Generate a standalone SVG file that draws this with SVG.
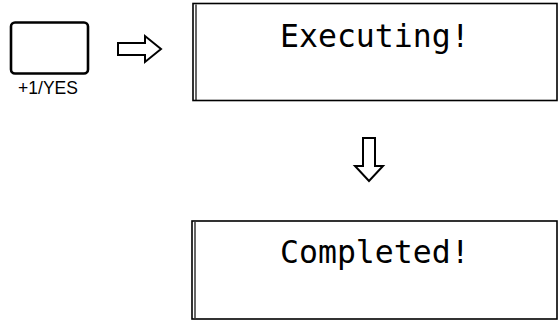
<svg xmlns="http://www.w3.org/2000/svg" width="560" height="321" viewBox="0 0 560 321">
<style>
.lcd{fill:#fff;stroke:#000;stroke-width:1.6}
.inner{stroke:#000;stroke-width:1.2;fill:none}
.lcdtxt{font-family:"DejaVu Sans Mono","Liberation Mono",monospace;font-size:31.5px;fill:#000}
.arrow{fill:#fff;stroke:#000;stroke-width:2;stroke-linejoin:miter}
.btn{fill:#fff;stroke:#000;stroke-width:2.6}
.lbl{font-family:"Liberation Sans",Arial,sans-serif;font-size:17.5px;fill:#000}
</style>
<rect width="560" height="321" fill="#fff"/>
<g id="button">
<rect class="btn" x="11" y="22.5" width="77" height="51" rx="4"/>
<text class="lbl" x="48" y="93.5" text-anchor="middle">+1/YES</text>
</g>
<g id="display-executing">
<rect class="lcd" x="193" y="3.5" width="364" height="97"/>
<line class="inner" x1="196" y1="4.5" x2="196" y2="100"/>
<text class="lcdtxt" x="280" y="47">Executing!</text>
</g>
<g id="display-completed">
<rect class="lcd" x="192" y="221" width="365" height="98"/>
<line class="inner" x1="195" y1="222" x2="195" y2="318"/>
<text class="lcdtxt" x="280" y="263">Completed!</text>
</g>
<g id="connectors">
<path class="arrow" d="M118,43 L145,43 L145,36 L161,49 L145,62 L145,55 L118,55 Z"/>
<path class="arrow" d="M363,138 L375,138 L375,166 L383,166 L369,181 L355,166 L363,166 Z"/>
</g>
</svg>
